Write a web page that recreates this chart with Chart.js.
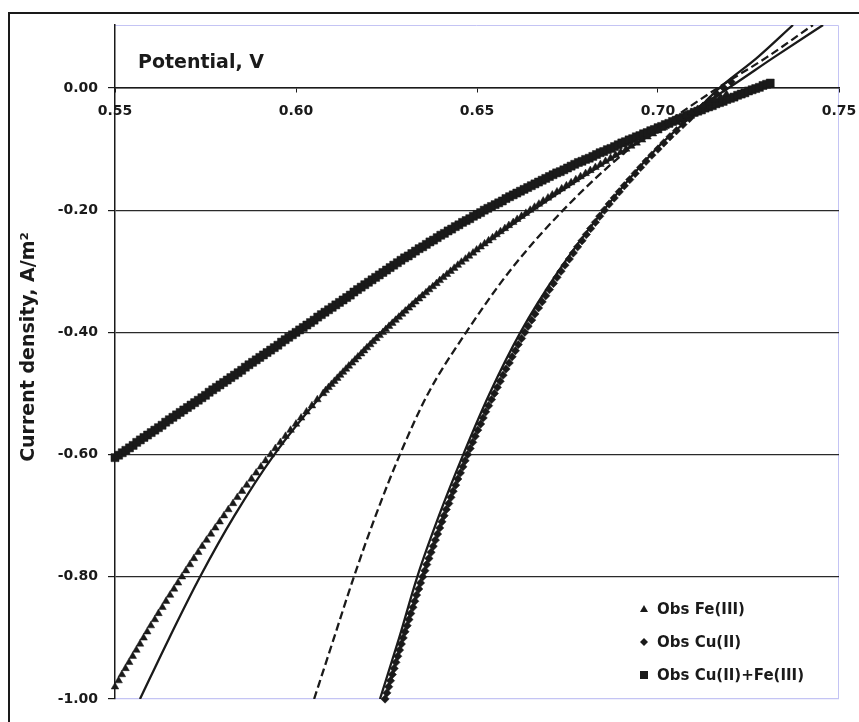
<!DOCTYPE html>
<html>
<head>
<meta charset="utf-8">
<title>Polarisation curves</title>
<style>
  html, body { margin: 0; padding: 0; background: #fff; }
</style>
<script src="https://cdn.jsdelivr.net/npm/chart.js@4.4.1/dist/chart.umd.min.js"></script>
</head>
<body>
<canvas id="polarisation" width="859" height="722"></canvas>
<script>
// observed Fe(III): potential (V) read at each current density step (A/m2)
const feCurrent = [
  -0.98, -0.97, -0.96, -0.95, -0.94, -0.93, -0.92, -0.91, -0.90, -0.89,
  -0.88, -0.87, -0.86, -0.85, -0.84, -0.83, -0.82, -0.81, -0.80, -0.79,
  -0.78, -0.77, -0.76, -0.75, -0.74, -0.73, -0.72, -0.71, -0.70, -0.69,
  -0.68, -0.67, -0.66, -0.65, -0.64, -0.63, -0.62, -0.61, -0.60, -0.59,
  -0.58, -0.57, -0.56, -0.55, -0.54, -0.53, -0.52, -0.51,
  -0.500, -0.495, -0.490, -0.485, -0.480, -0.475, -0.470, -0.465, -0.460, -0.455,
  -0.450, -0.445, -0.440, -0.435, -0.430, -0.425, -0.420, -0.415, -0.410, -0.405,
  -0.400, -0.395, -0.390, -0.385, -0.380, -0.375, -0.370, -0.365, -0.360, -0.355,
  -0.350, -0.345, -0.340, -0.335, -0.330, -0.325, -0.320, -0.315, -0.310, -0.305,
  -0.300, -0.295, -0.290, -0.285, -0.280, -0.275, -0.270, -0.265, -0.260, -0.255,
  -0.250, -0.245, -0.240, -0.235, -0.230, -0.225, -0.220, -0.215, -0.210, -0.205,
  -0.200, -0.195, -0.190, -0.185, -0.180, -0.175, -0.170, -0.165, -0.160, -0.155,
  -0.150, -0.145, -0.140, -0.135, -0.130, -0.125, -0.120, -0.115, -0.110, -0.105,
  -0.100, -0.095, -0.090, -0.085, -0.080, -0.075, -0.070, -0.065, -0.060, -0.055,
  -0.050, -0.045, -0.040, -0.035, -0.030, -0.025, -0.020, -0.015, -0.010
];
const fePotential = [
  0.5500, 0.5510, 0.5519, 0.5529, 0.5539, 0.5549, 0.5559, 0.5569, 0.5579, 0.5589,
  0.5599, 0.5610, 0.5620, 0.5631, 0.5641, 0.5652, 0.5663, 0.5674, 0.5685, 0.5696,
  0.5707, 0.5718, 0.5730, 0.5741, 0.5753, 0.5765, 0.5777, 0.5789, 0.5801, 0.5813,
  0.5826, 0.5838, 0.5851, 0.5864, 0.5877, 0.5890, 0.5903, 0.5916, 0.5930, 0.5943,
  0.5957, 0.5971, 0.5985, 0.6000, 0.6014, 0.6029, 0.6044, 0.6059,
  0.6075, 0.6082, 0.6090, 0.6098, 0.6106, 0.6114, 0.6122, 0.6130, 0.6138, 0.6146,
  0.6155, 0.6163, 0.6171, 0.6180, 0.6188, 0.6196, 0.6205, 0.6213, 0.6222, 0.6231,
  0.6240, 0.6248, 0.6257, 0.6266, 0.6275, 0.6284, 0.6293, 0.6302, 0.6312, 0.6321,
  0.6330, 0.6340, 0.6349, 0.6359, 0.6368, 0.6378, 0.6388, 0.6397, 0.6407, 0.6417,
  0.6427, 0.6437, 0.6447, 0.6457, 0.6468, 0.6478, 0.6489, 0.6499, 0.6510, 0.6521,
  0.6532, 0.6543, 0.6554, 0.6565, 0.6577, 0.6588, 0.6600, 0.6611, 0.6623, 0.6635,
  0.6647, 0.6659, 0.6671, 0.6683, 0.6696, 0.6708, 0.6721, 0.6734, 0.6747, 0.6760,
  0.6773, 0.6786, 0.6800, 0.6813, 0.6827, 0.6841, 0.6855, 0.6869, 0.6883, 0.6897,
  0.6912, 0.6926, 0.6941, 0.6956, 0.6971, 0.6986, 0.7001, 0.7016, 0.7031, 0.7046,
  0.7062, 0.7077, 0.7093, 0.7109, 0.7125, 0.7141, 0.7157, 0.7173, 0.7189
];

// observed Cu(II)
const cuCurrent = [
  -1.00, -0.99, -0.98, -0.97, -0.96, -0.95, -0.94, -0.93, -0.92, -0.91,
  -0.90, -0.89, -0.88, -0.87, -0.86, -0.85, -0.84, -0.83, -0.82, -0.81,
  -0.80, -0.79, -0.78, -0.77, -0.76, -0.75, -0.74, -0.73, -0.72, -0.71,
  -0.70, -0.69, -0.68, -0.67, -0.66, -0.65, -0.64, -0.63, -0.62, -0.61,
  -0.60, -0.59, -0.58, -0.57, -0.56, -0.55, -0.54, -0.53, -0.52, -0.51,
  -0.50, -0.49, -0.48, -0.47, -0.46, -0.45, -0.44, -0.43, -0.42, -0.41,
  -0.40, -0.39, -0.38, -0.37, -0.36, -0.35, -0.34, -0.33, -0.32, -0.31,
  -0.30, -0.29, -0.28, -0.27, -0.26, -0.25, -0.24, -0.23, -0.22, -0.21,
  -0.20, -0.19, -0.18, -0.17, -0.16, -0.15, -0.14, -0.13, -0.12, -0.11,
  -0.10, -0.09, -0.08, -0.07, -0.06, -0.05, -0.04, -0.03, -0.02, -0.01,
  0.00, 0.01
];
const cuPotential = [
  0.6246, 0.6251, 0.6256, 0.6261, 0.6266, 0.6271, 0.6276, 0.6281, 0.6286, 0.6291,
  0.6296, 0.6301, 0.6307, 0.6312, 0.6317, 0.6323, 0.6328, 0.6333, 0.6339, 0.6344,
  0.6350, 0.6356, 0.6361, 0.6367, 0.6373, 0.6379, 0.6385, 0.6391, 0.6397, 0.6403,
  0.6409, 0.6415, 0.6422, 0.6428, 0.6434, 0.6441, 0.6447, 0.6454, 0.6461, 0.6467,
  0.6474, 0.6481, 0.6488, 0.6495, 0.6502, 0.6510, 0.6517, 0.6524, 0.6532, 0.6540,
  0.6548, 0.6556, 0.6564, 0.6572, 0.6580, 0.6589, 0.6597, 0.6606, 0.6614, 0.6623,
  0.6632, 0.6641, 0.6651, 0.6660, 0.6670, 0.6680, 0.6690, 0.6700, 0.6711, 0.6721,
  0.6732, 0.6743, 0.6755, 0.6766, 0.6778, 0.6790, 0.6802, 0.6814, 0.6827, 0.6839,
  0.6852, 0.6865, 0.6879, 0.6893, 0.6907, 0.6922, 0.6937, 0.6952, 0.6967, 0.6983,
  0.7000, 0.7016, 0.7033, 0.7051, 0.7069, 0.7087, 0.7105, 0.7124, 0.7143, 0.7162,
  0.7182, 0.7202
];

// observed Cu(II)+Fe(III), current read at each 1 mV potential step
const mixPotential = [
  0.550, 0.551, 0.552, 0.553, 0.554, 0.555, 0.556, 0.557, 0.558, 0.559,
  0.560, 0.561, 0.562, 0.563, 0.564, 0.565, 0.566, 0.567, 0.568, 0.569,
  0.570, 0.571, 0.572, 0.573, 0.574, 0.575, 0.576, 0.577, 0.578, 0.579,
  0.580, 0.581, 0.582, 0.583, 0.584, 0.585, 0.586, 0.587, 0.588, 0.589,
  0.590, 0.591, 0.592, 0.593, 0.594, 0.595, 0.596, 0.597, 0.598, 0.599,
  0.600, 0.601, 0.602, 0.603, 0.604, 0.605, 0.606, 0.607, 0.608, 0.609,
  0.610, 0.611, 0.612, 0.613, 0.614, 0.615, 0.616, 0.617, 0.618, 0.619,
  0.620, 0.621, 0.622, 0.623, 0.624, 0.625, 0.626, 0.627, 0.628, 0.629,
  0.630, 0.631, 0.632, 0.633, 0.634, 0.635, 0.636, 0.637, 0.638, 0.639,
  0.640, 0.641, 0.642, 0.643, 0.644, 0.645, 0.646, 0.647, 0.648, 0.649,
  0.650, 0.651, 0.652, 0.653, 0.654, 0.655, 0.656, 0.657, 0.658, 0.659,
  0.660, 0.661, 0.662, 0.663, 0.664, 0.665, 0.666, 0.667, 0.668, 0.669,
  0.670, 0.671, 0.672, 0.673, 0.674, 0.675, 0.676, 0.677, 0.678, 0.679,
  0.680, 0.681, 0.682, 0.683, 0.684, 0.685, 0.686, 0.687, 0.688, 0.689,
  0.690, 0.691, 0.692, 0.693, 0.694, 0.695, 0.696, 0.697, 0.698, 0.699,
  0.700, 0.701, 0.702, 0.703, 0.704, 0.705, 0.706, 0.707, 0.708, 0.709,
  0.710, 0.711, 0.712, 0.713, 0.714, 0.715, 0.716, 0.717, 0.718, 0.719,
  0.720, 0.721, 0.722, 0.723, 0.724, 0.725, 0.726, 0.727, 0.728, 0.729,
  0.730, 0.731
];
const mixCurrent = [
  -0.605, -0.601, -0.597, -0.593, -0.589, -0.585, -0.580, -0.576, -0.572, -0.568,
  -0.564, -0.560, -0.556, -0.552, -0.547, -0.543, -0.539, -0.535, -0.531, -0.527,
  -0.523, -0.519, -0.515, -0.511, -0.507, -0.503, -0.498, -0.494, -0.490, -0.486,
  -0.482, -0.478, -0.474, -0.470, -0.466, -0.462, -0.457, -0.453, -0.449, -0.445,
  -0.441, -0.437, -0.433, -0.429, -0.425, -0.421, -0.416, -0.412, -0.408, -0.404,
  -0.400, -0.396, -0.392, -0.388, -0.384, -0.380, -0.375, -0.371, -0.367, -0.363,
  -0.359, -0.355, -0.351, -0.347, -0.343, -0.339, -0.334, -0.330, -0.326, -0.322,
  -0.318, -0.314, -0.310, -0.306, -0.302, -0.298, -0.294, -0.290, -0.286, -0.282,
  -0.278, -0.275, -0.271, -0.267, -0.263, -0.260, -0.256, -0.252, -0.249, -0.245,
  -0.241, -0.238, -0.234, -0.231, -0.227, -0.224, -0.220, -0.217, -0.214, -0.210,
  -0.207, -0.204, -0.200, -0.197, -0.194, -0.191, -0.188, -0.185, -0.181, -0.178,
  -0.175, -0.172, -0.169, -0.166, -0.163, -0.160, -0.157, -0.154, -0.151, -0.148,
  -0.145, -0.142, -0.139, -0.137, -0.134, -0.131, -0.128, -0.125, -0.122, -0.120,
  -0.117, -0.115, -0.112, -0.109, -0.106, -0.104, -0.101, -0.099, -0.096, -0.093,
  -0.090, -0.088, -0.085, -0.083, -0.080, -0.078, -0.075, -0.073, -0.070, -0.068,
  -0.065, -0.063, -0.060, -0.058, -0.055, -0.053, -0.050, -0.048, -0.045, -0.043,
  -0.040, -0.038, -0.036, -0.033, -0.031, -0.029, -0.026, -0.024, -0.022, -0.019,
  -0.017, -0.015, -0.012, -0.010, -0.008, -0.005, -0.003, -0.001, 0.001, 0.004,
  0.006, 0.008
];

// model curves (solid: Fe(III) and Cu(II) fits, dashed: combined prediction)
const fitCurrent = [-1.00, -0.90, -0.80, -0.70, -0.60, -0.50, -0.40, -0.30, -0.20, -0.10, -0.05, 0.00, 0.05, 0.103];
const feFitPotential = [0.5569, 0.5650, 0.5735, 0.5830, 0.5940, 0.6075, 0.6235, 0.6425, 0.6655, 0.6915, 0.7060, 0.7195, 0.7320, 0.7456];
const cuFitPotential = [0.6232, 0.6285, 0.6335, 0.6395, 0.6462, 0.6535, 0.6620, 0.6725, 0.6850, 0.6995, 0.7085, 0.7170, 0.7275, 0.7373];
const mixFitPotential = [0.6050, 0.6105, 0.6160, 0.6220, 0.6287, 0.6365, 0.6470, 0.6590, 0.6738, 0.6920, 0.7040, 0.7165, 0.7300, 0.7428];

const yTicks = [-1.0, -0.8, -0.6, -0.4, -0.2, 0.0];

const INK = '#1a1a1a';
const FRAME = '#c4c4f4';
const FONT = '"DejaVu Sans", "Liberation Sans", sans-serif';

function points(xs, ys) {
    return xs.map((x, i) => ({ x: x, y: ys[i] }));
}

function obsSet(label, xs, ys, style, radius) {
    return {
        label: label,
        data: points(xs, ys),
        showLine: false,
        pointStyle: style,
        pointRadius: radius,
        pointBackgroundColor: INK,
        pointBorderColor: INK,
        pointBorderWidth: 0.5,
        clip: false,
        legendStyle: style
    };
}

function fitSet(label, xs, dash) {
    return {
        label: label,
        data: points(xs, fitCurrent),
        showLine: true,
        borderColor: INK,
        borderWidth: 2.3,
        borderDash: dash,
        pointRadius: 0,
        cubicInterpolationMode: 'monotone'
    };
}

// outer frame, lavender plot border, axis titles
const decorations = {
    id: 'decorations',
    beforeDraw(chart) {
        const { ctx, chartArea: a } = chart;
        ctx.save();
        ctx.strokeStyle = INK;
        ctx.lineWidth = 2;
        ctx.beginPath();
        ctx.moveTo(9, chart.height);
        ctx.lineTo(9, 13);
        ctx.lineTo(chart.width, 13);
        ctx.stroke();

        ctx.strokeStyle = FRAME;
        ctx.lineWidth = 1;
        ctx.beginPath();
        ctx.moveTo(a.left, a.top + 0.5);
        ctx.lineTo(a.right - 0.5, a.top + 0.5);
        ctx.lineTo(a.right - 0.5, a.bottom - 0.5);
        ctx.lineTo(a.left, a.bottom - 0.5);
        ctx.stroke();
        ctx.restore();
    },
    afterDraw(chart) {
        const { ctx, chartArea: a } = chart;
        ctx.save();
        ctx.fillStyle = INK;
        ctx.font = 'bold 19px ' + FONT;
        ctx.textBaseline = 'middle';
        ctx.textAlign = 'left';
        ctx.fillText('Potential, V', a.left + 23, 63);

        ctx.translate(29, 347);
        ctx.rotate(-Math.PI / 2);
        ctx.textAlign = 'center';
        ctx.fillText('Current density, A/m²', 0, 0);
        ctx.restore();
    }
};

// legend for the observed series only, inside the lower right corner
const obsLegend = {
    id: 'obsLegend',
    afterDraw(chart) {
        const { ctx, chartArea: a } = chart;
        const entries = chart.data.datasets.filter(d => d.legendStyle);
        const x0 = a.right - 195;
        let y = a.bottom - 90;
        ctx.save();
        ctx.font = 'bold 15px ' + FONT;
        ctx.textBaseline = 'middle';
        ctx.fillStyle = INK;
        entries.forEach(d => {
            ctx.beginPath();
            if (d.legendStyle === 'triangle') {
                ctx.moveTo(x0, y - 4);
                ctx.lineTo(x0 + 4, y + 3);
                ctx.lineTo(x0 - 4, y + 3);
            } else if (d.legendStyle === 'rectRot') {
                ctx.moveTo(x0, y - 4);
                ctx.lineTo(x0 + 4, y);
                ctx.lineTo(x0, y + 4);
                ctx.lineTo(x0 - 4, y);
            } else {
                ctx.rect(x0 - 4, y - 4, 8, 8);
            }
            ctx.closePath();
            ctx.fill();
            ctx.fillText(d.label, x0 + 13, y + 1);
            y += 33;
        });
        ctx.restore();
    }
};

Chart.defaults.font.family = FONT;
Chart.defaults.font.weight = 'bold';
Chart.defaults.color = INK;

new Chart(document.getElementById('polarisation'), {
    type: 'scatter',
    data: {
        datasets: [
            obsSet('Obs Fe(III)', fePotential, feCurrent, 'triangle', 4.4),
            obsSet('Obs Cu(II)', cuPotential, cuCurrent, 'rectRot', 4.2),
            obsSet('Obs Cu(II)+Fe(III)', mixPotential, mixCurrent, 'rect', 5.7),
            fitSet('Fit Fe(III)', feFitPotential, []),
            fitSet('Fit Cu(II)', cuFitPotential, []),
            fitSet('Model Cu(II)+Fe(III)', mixFitPotential, [8, 4])
        ]
    },
    options: {
        responsive: false,
        animation: false,
        layout: { padding: { left: 0, top: 25, right: 20, bottom: 23 } },
        plugins: {
            legend: { display: false },
            tooltip: { enabled: false }
        },
        scales: {
            x: {
                type: 'linear',
                min: 0.55,
                max: 0.75,
                position: { y: 0 },
                ticks: {
                    stepSize: 0.05,
                    padding: 11,
                    font: { size: 14, weight: 'bold' },
                    callback: v => v.toFixed(2)
                },
                grid: { display: true, drawOnChartArea: false, drawTicks: true, tickLength: 4, color: INK },
                border: { display: true, color: INK, width: 1.5 },
                afterFit(scale) {
                    scale.paddingLeft = 0;
                    scale.paddingRight = 0;
                }
            },
            y: {
                type: 'linear',
                min: -1.0,
                max: 0.103,
                afterBuildTicks(scale) {
                    scale.ticks = yTicks.map(v => ({ value: v }));
                },
                ticks: {
                    padding: 10,
                    font: { size: 14, weight: 'bold' },
                    callback: v => v.toFixed(2)
                },
                grid: {
                    color: c => (c.tick && c.tick.value <= -0.999 ? FRAME : '#2a2a2a'),
                    tickColor: INK,
                    tickLength: 7,
                    lineWidth: 1.2
                },
                border: { display: true, color: INK, width: 1.5 },
                afterFit(scale) {
                    scale.width = 115;
                    scale.paddingTop = 0;
                    scale.paddingBottom = 0;
                }
            }
        }
    },
    plugins: [decorations, obsLegend]
});
</script>
</body>
</html>
